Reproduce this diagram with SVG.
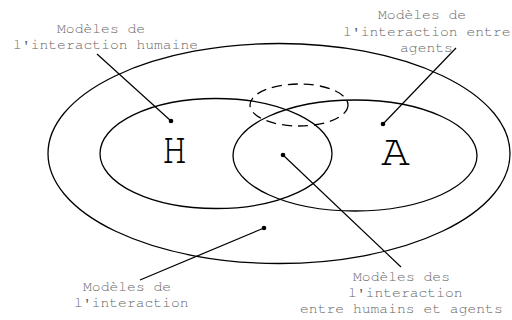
<svg xmlns="http://www.w3.org/2000/svg" width="512" height="320" viewBox="0 0 512 320">
<style>
.e{fill:none;stroke:#000;stroke-width:1.3}
.d{fill:none;stroke:#000;stroke-width:1.3;stroke-dasharray:10 6}
.l{stroke:#000;stroke-width:1.2}
.t{font-family:"Nimbus Mono PS","FreeMono","Courier","Liberation Mono","Courier New",monospace;font-size:14.7px;fill:#666}
.big{font-family:"Nimbus Mono PS","FreeMono","Liberation Serif",serif;font-size:45px;fill:#000}
</style>
<rect width="512" height="320" fill="#fff"/>
<g id="outer"><ellipse class="e" cx="279" cy="153.5" rx="231" ry="110"/></g>
<g id="humans"><ellipse class="e" cx="216" cy="153.5" rx="116" ry="55"/><text class="big" x="162" y="163" textLength="25" lengthAdjust="spacingAndGlyphs">H</text></g>
<g id="agents"><ellipse class="e" cx="355" cy="155.5" rx="122" ry="55.5"/><text class="big" x="381" y="165" textLength="29" lengthAdjust="spacingAndGlyphs">A</text></g>
<g id="dashed"><ellipse class="d" cx="299" cy="105" rx="49" ry="21"/></g>
<g id="connectors">
<line class="l" x1="97" y1="54" x2="171" y2="121"/>
<line class="l" x1="456" y1="48" x2="383" y2="124"/>
<line class="l" x1="283" y1="155" x2="401" y2="267"/>
<line class="l" x1="264" y1="228" x2="140" y2="280"/>
<circle cx="171" cy="121" r="2.3"/>
<circle cx="383" cy="124" r="2.3"/>
<circle cx="283" cy="155" r="2.3"/>
<circle cx="264" cy="228" r="2.3"/>
</g>
<g id="label-humaine" class="t"><text x="57" y="33">Modèles de</text><text x="13" y="49">l'interaction humaine</text></g>
<g id="label-agents" class="t"><text x="378" y="19">Modèles de</text><text x="343" y="36">l'interaction entre</text><text x="400" y="52">agents</text></g>
<g id="label-interaction" class="t"><text x="83" y="291">Modèles de</text><text x="74" y="307">l'interaction</text></g>
<g id="label-mixte" class="t"><text x="353" y="281">Modèles des</text><text x="348" y="297">l'interaction</text><text x="300" y="313">entre humains et agents</text></g>
</svg>
